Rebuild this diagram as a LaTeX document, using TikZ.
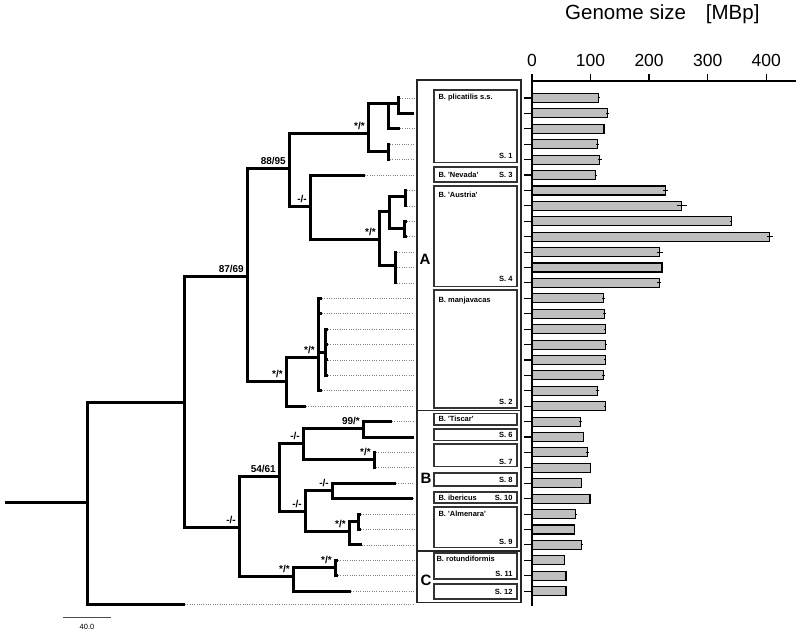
\documentclass[tikz,border=0pt]{standalone}
\usepackage{fontspec}
\setmainfont{Liberation Sans}
\usetikzlibrary{calc}
\tikzset{
  branch/.style={draw, line width=3pt, line join=miter},
  leader/.style={draw=black!50, line width=0.7pt, dash pattern=on 1pt off 1.3pt},
  support/.style={
    font=\fontsize{10}{12}\selectfont\bfseries,
    inner sep=0pt,
    anchor=base east, xshift=-3pt, yshift=4pt},
  spbox/.style={
    rectangle,
    draw=black!80, line width=1.4pt,
    minimum width=83pt,
    inner sep=0pt},
  splabel/.style={font=\fontsize{7.5}{9}\selectfont\bfseries, inner sep=0pt},
  grpbox/.style={draw=black!85, line width=1.2pt},
  grplabel/.style={font=\fontsize{15}{18}\selectfont\bfseries, inner sep=0pt},
  bar/.style={draw=black, line width=1.1pt, fill=black!25},
  whisk/.style={draw=black, line width=1pt},
  rowtick/.style={draw=black, line width=1.1pt},
  axisline/.style={draw=black, line width=1.3pt},
  ticklab/.style={font=\fontsize{17.5}{20}\selectfont, inner sep=0pt},
}

\begin{document}
\begin{tikzpicture}[x=1pt, y=-1pt]
  \useasboundingbox (0,0) rectangle (800,639);
  % leaves (one per bar row) and the end of the leader lines
  \foreach \n/\x in {0/400, 1/414, 2/400, 3/390, 4/390, 5/365, 6/407, 7/407, 8/407,
                     9/407, 10/397, 11/397, 12/397, 13/322, 14/322, 15/328, 16/328,
                     17/328, 18/328, 19/322, 20/306, 21/392, 22/414, 23/376, 24/376,
                     25/396, 26/413, 27/361, 28/361, 29/362, 30/338, 31/338, 32/351}
    \coordinate (L\n) at (\x, 98+15.41*\n);
  \coordinate (LeadEnd) at (414,0);
  \coordinate (Out) at (185,604);

  % inner nodes
  \coordinate (RootStub) at (5,502.3);
  \coordinate (Root)     at (87,502.3);
  \coordinate (NodeIn)   at (184,402.3);
  \coordinate (NodeA)    at (247,276);
  \coordinate (NodeA1)   at (289,169);
  \coordinate (NodePlic) at (368,133.3);
  \coordinate (NodePl1)  at (388,104);
  \coordinate (NodePl0)  at (398,104);
  \coordinate (NodePl2)  at (388,151.9);
  \coordinate (NodeNA)   at (310,206.7);
  \coordinate (NodeAus)  at (379,239.3);
  \coordinate (NodeAu1)  at (389,211.7);
  \coordinate (NodeAu3)  at (405,196.7);
  \coordinate (NodeAu4)  at (404,228.3);
  \coordinate (NodeAu2)  at (395,265);
  \coordinate (NodeMan)  at (286,381.7);
  \coordinate (NodeM1)   at (318,357.7);
  \coordinate (NodeM2)   at (325,352);
  \coordinate (NodeBC)   at (239,527.3);
  \coordinate (NodeB)    at (279,476.7);
  \coordinate (NodeB1)   at (303,443.3);
  \coordinate (NodeTis)  at (363,428.3);
  \coordinate (NodeS7)   at (374,459.3);
  \coordinate (NodeB2)   at (305,511.7);
  \coordinate (NodeS8)   at (332,490.7);
  \coordinate (NodeAlm)  at (349,531.7);
  \coordinate (NodeAl1)  at (358,521.8);
  \coordinate (NodeC)    at (293,576.7);
  \coordinate (NodeRot)  at (335,567);

  % dotted leaders
  \foreach \n in {0,2,3,...,21,23,24,...,32}
    \draw[leader] (L\n) -- (L\n -| LeadEnd);
  \draw[leader] (Out) -- (Out -| LeadEnd);

  % branches, parent/child
  \draw[branch] (RootStub) -- (Root);
  \foreach \p/\c in {Root/NodeIn, Root/Out, NodeIn/NodeA, NodeIn/NodeBC,
      NodeA/NodeA1, NodeA/NodeMan, NodeA1/NodePlic, NodeA1/NodeNA,
      NodePlic/NodePl1, NodePlic/NodePl2, NodePl1/NodePl0, NodePl1/L2,
      NodePl0/L0, NodePl0/L1, NodePl2/L3, NodePl2/L4,
      NodeNA/L5, NodeNA/NodeAus, NodeAus/NodeAu1, NodeAus/NodeAu2,
      NodeAu1/NodeAu3, NodeAu1/NodeAu4, NodeAu3/L6, NodeAu3/L7,
      NodeAu4/L8, NodeAu4/L9, NodeAu2/L10, NodeAu2/L11, NodeAu2/L12,
      NodeMan/NodeM1, NodeMan/L20, NodeM1/L13, NodeM1/L14, NodeM1/NodeM2, NodeM1/L19,
      NodeM2/L15, NodeM2/L16, NodeM2/L17, NodeM2/L18,
      NodeBC/NodeB, NodeBC/NodeC, NodeB/NodeB1, NodeB/NodeB2,
      NodeB1/NodeTis, NodeB1/NodeS7, NodeTis/L21, NodeTis/L22,
      NodeS7/L23, NodeS7/L24, NodeB2/NodeS8, NodeB2/NodeAlm,
      NodeS8/L25, NodeS8/L26, NodeAlm/NodeAl1, NodeAlm/L29,
      NodeAl1/L27, NodeAl1/L28, NodeC/NodeRot, NodeC/L32,
      NodeRot/L30, NodeRot/L31}
    \draw[branch] (\p) |- (\c);

  % support values
  \node[support] (SupA)    at (NodeA)    {87/69};
  \node[support] (SupA1)   at (NodeA1)   {88/95};
  \node[support] (SupPlic) at (NodePlic) {*/*};
  \node[support] (SupNA)   at (NodeNA)   {-/-};
  \node[support] (SupAus)  at (NodeAus)  {*/*};
  \node[support] (SupMan)  at (NodeMan)  {*/*};
  \node[support] (SupM1)   at (NodeM1)   {*/*};
  \node[support] (SupBC)   at (NodeBC)   {-/-};
  \node[support] (SupB)    at (NodeB)    {54/61};
  \node[support] (SupB1)   at (NodeB1)   {-/-};
  \node[support] (SupTis)  at (NodeTis)  {99/*};
  \node[support] (SupS7)   at (NodeS7)   {*/*};
  \node[support] (SupB2)   at (NodeB2)   {-/-};
  \node[support] (SupS8)   at (NodeS8)   {-/-};
  \node[support] (SupAlm)  at (NodeAlm)  {*/*};
  \node[support] (SupC)    at (NodeC)    {*/*};
  \node[support] (SupRot)  at (NodeRot)  {*/*};

  % scale bar
  \coordinate (ScaleL) at (63,617.7);
  \coordinate (ScaleR) at (111,617.7);
  \draw[black!70, line width=0.8pt] (ScaleL) -- (ScaleR);
  \node[font=\fontsize{7.5}{9}\selectfont, inner sep=0pt] (ScaleLab) at (87,627) {40.0};

  % groups A, B, C
  \draw[grpbox] (417,80) rectangle (521,602.5);
  \draw[grpbox] (417,410.5) -- (521,410.5);
  \draw[grpbox] (417,551) -- (521,551);
  \node[grplabel] (GrpA) at (425,259) {A};
  \node[grplabel] (GrpB) at (426,478) {B};
  \node[grplabel] (GrpC) at (426,580) {C};

  % species boxes
  \node[spbox, minimum height=72.7pt] (BoxPlic) at (475.5,126.4) {};
  \node[splabel, anchor=north west, xshift=5pt, yshift=-5pt] (TxtPlic) at (BoxPlic.north west) {B. plicatilis s.s.};
  \node[splabel, anchor=south east, xshift=-5pt, yshift=5pt] (NumPlic) at (BoxPlic.south east) {S. 1};

  \node[spbox, minimum height=15pt] (BoxNev) at (475.5,174.5) {};
  \node[splabel, anchor=west, xshift=5pt] (TxtNev) at (BoxNev.west) {B. \textquotesingle Nevada\textquotesingle};
  \node[splabel, anchor=east, xshift=-5pt] (NumNev) at (BoxNev.east) {S. 3};

  \node[spbox, minimum height=100.7pt] (BoxAus) at (475.5,236.4) {};
  \node[splabel, anchor=north west, xshift=5pt, yshift=-7pt] (TxtAus) at (BoxAus.north west) {B. \textquotesingle Austria\textquotesingle};
  \node[splabel, anchor=south east, xshift=-5pt, yshift=5.5pt] (NumAus) at (BoxAus.south east) {S. 4};

  \node[spbox, minimum height=118pt] (BoxMan) at (475.5,349) {};
  \node[splabel, anchor=north west, xshift=5pt, yshift=-8pt] (TxtMan) at (BoxMan.north west) {B. manjavacas};
  \node[splabel, anchor=south east, xshift=-5pt, yshift=4pt] (NumMan) at (BoxMan.south east) {S. 2};

  \node[spbox, minimum height=11.7pt] (BoxTis) at (475.5,419.2) {};
  \node[splabel, anchor=west, xshift=5pt] (TxtTis) at (BoxTis.west) {B. \textquotesingle Tiscar\textquotesingle};

  \node[spbox, minimum height=11.7pt] (BoxSix) at (475.5,434.9) {};
  \node[splabel, anchor=east, xshift=-5pt] (NumSix) at (BoxSix.east) {S. 6};

  \node[spbox, minimum height=22.7pt] (BoxSeven) at (475.5,455.4) {};
  \node[splabel, anchor=south east, xshift=-5pt, yshift=3pt] (NumSeven) at (BoxSeven.south east) {S. 7};

  \node[spbox, minimum height=13pt] (BoxEight) at (475.5,479.5) {};
  \node[splabel, anchor=east, xshift=-5pt] (NumEight) at (BoxEight.east) {S. 8};

  \node[spbox, minimum height=11pt] (BoxIbe) at (475.5,497.5) {};
  \node[splabel, anchor=west, xshift=5pt] (TxtIbe) at (BoxIbe.west) {B. ibericus};
  \node[splabel, anchor=east, xshift=-5pt] (NumIbe) at (BoxIbe.east) {S. 10};

  \node[spbox, minimum height=40.7pt] (BoxAlm) at (475.5,527.4) {};
  \node[splabel, anchor=north west, xshift=5pt, yshift=-5pt] (TxtAlm) at (BoxAlm.north west) {B. \textquotesingle Almenara\textquotesingle};
  \node[splabel, anchor=south east, xshift=-5pt, yshift=4pt] (NumAlm) at (BoxAlm.south east) {S. 9};

  \node[spbox, minimum height=26pt] (BoxRot) at (475.5,566) {};
  \node[splabel, anchor=north west, xshift=3pt, yshift=-4pt] (TxtRot) at (BoxRot.north west) {B. rotundiformis};
  \node[splabel, anchor=south east, xshift=-5pt, yshift=3pt] (NumRot) at (BoxRot.south east) {S. 11};

  \node[spbox, minimum height=15pt] (BoxTwelve) at (475.5,591.5) {};
  \node[splabel, anchor=east, xshift=-5pt] (NumTwelve) at (BoxTwelve.east) {S. 12};

  % genome size bars
  \foreach \v/\e [count=\i from 0] in {114/2, 129/3, 123/2, 112/3, 116/3, 109/2, 228/4,
      256/8, 340/2, 406/5, 218/5, 222/2, 217/3, 122/2, 124/3, 125/2, 126/2, 125/2,
      122/2, 112/2, 125/2, 83/2, 88/0, 95/2, 100/0, 84/1, 99/2, 75/2, 72/1, 85/2,
      55/0, 58/2, 58/0} {
    \pgfmathsetmacro\yy{98+15.41*\i}
    \pgfmathsetmacro\xx{532+0.5855*\v}
    \pgfmathsetmacro\ee{0.5855*\e}
    \draw[rowtick] (524,\yy) -- (532,\yy);
    \draw[bar] (532,\yy-4.5) rectangle (\xx,\yy+4.5);
    \draw[whisk] (\xx-\ee,\yy) -- (\xx+\ee,\yy);
  }

  % axis
  \draw[axisline] (532,81) -- (796,81);
  \draw[axisline] (532,81) -- (532,606);
  \foreach \t in {0,100,...,400} {
    \draw[axisline] (532+0.5855*\t,81) -- (532+0.5855*\t,74);
    \node[ticklab] (Tick\t) at (532+0.5855*\t,60) {\t};
  }
  \node[anchor=base west, inner sep=0pt, font=\fontsize{20.5}{24}\selectfont] (Title)
    at (565,19.5) {Genome size\hspace{20pt}[MBp]};
\end{tikzpicture}
\end{document}
